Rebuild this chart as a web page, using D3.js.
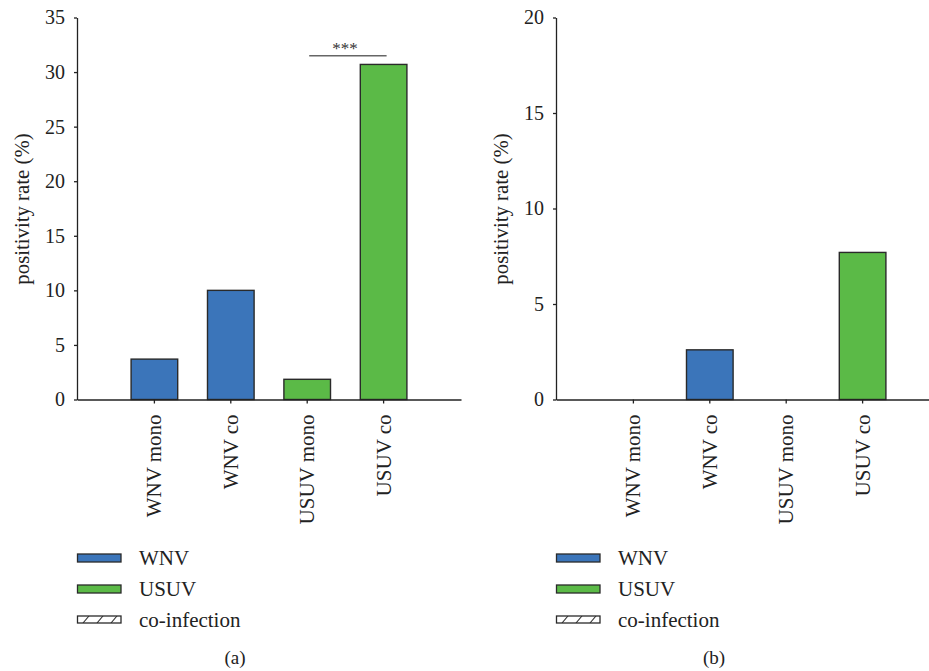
<!DOCTYPE html>
<html><head><meta charset="utf-8">
<script src="https://cdn.jsdelivr.net/npm/d3@7"></script>
<style>body{margin:0;background:#fff}svg{display:block}</style>
</head><body>
<script>
const categories = ["WNV mono", "WNV co", "USUV mono", "USUV co"];
const seriesOf = ["WNV", "WNV", "USUV", "USUV"];
const valuesA = [3.7, 10.0, 1.85, 30.7];
const valuesB = [0, 2.6, 0, 7.7];
const ticksA = [0, 5, 10, 15, 20, 25, 30, 35];
const ticksB = [0, 5, 10, 15, 20];
const legendItems = ["WNV", "USUV", "co-infection"];
const panelLabels = ["(a)", "(b)"];
const colors = {WNV: "#3b75ba", USUV: "#5bba47"};

const W = 929, H = 671;
const font = "'Liberation Serif', 'Times New Roman', serif";
const svg = d3.select("body").append("svg").attr("width", W).attr("height", H)
  .style("font-family", font);

const defs = svg.append("defs");
const pat = defs.append("pattern").attr("id", "hatch").attr("patternUnits", "userSpaceOnUse")
  .attr("width", 14).attr("height", 7).attr("x", 79).attr("y", 616);
pat.append("rect").attr("width", 14).attr("height", 7).attr("fill", "#fff");
pat.append("line").attr("x1", 4).attr("y1", 7).attr("x2", 10).attr("y2", 0)
  .attr("stroke", "#333").attr("stroke-width", 1.1);

function panel(ox, values, ticks, ymax, label, sig) {
  const g = svg.append("g").attr("transform", `translate(${ox},0)`);
  const y = d3.scaleLinear().domain([0, ymax]).range([399.5, 17.5]);
  const x = d3.scaleBand().domain(categories).range([77, 461]).paddingInner(0.39).paddingOuter(0.708);

  // bars
  g.selectAll("rect.bar").data(categories).join("rect").attr("class", "bar")
    .filter((d, i) => values[i] > 0)
    .attr("x", d => x(d)).attr("width", x.bandwidth())
    .attr("y", d => y(values[categories.indexOf(d)]))
    .attr("height", d => y(0) - y(values[categories.indexOf(d)]))
    .attr("fill", d => colors[seriesOf[categories.indexOf(d)]])
    .attr("stroke", "#2a2a2a").attr("stroke-width", 1.4);

  // y axis
  const ya = g.append("g").attr("transform", "translate(77,0)")
    .call(d3.axisLeft(y).tickValues(ticks).tickSize(3).tickPadding(9).tickSizeOuter(0));
  ya.select(".domain").attr("stroke", "#222").attr("stroke-width", 1.3);
  ya.selectAll(".tick line").attr("stroke", "#222").attr("stroke-width", 1.3);
  ya.selectAll(".tick text").attr("font-family", font).attr("font-size", 20).attr("fill", "#222");

  // x axis
  const xa = g.append("g").attr("transform", "translate(0,399.5)")
    .call(d3.axisBottom(x).tickSize(4).tickSizeOuter(0).tickPadding(14));
  xa.select(".domain").attr("stroke", "#222").attr("stroke-width", 1.3);
  xa.selectAll(".tick line").attr("stroke", "#222").attr("stroke-width", 1.3);
  xa.selectAll(".tick text").attr("font-family", font).attr("font-size", 21).attr("fill", "#222")
    .attr("transform", "rotate(-90)").attr("text-anchor", "end")
    .attr("x", -15).attr("y", 0).attr("dy", "0.33em");

  // y label
  g.append("text").attr("transform", "translate(29,209) rotate(-90)")
    .attr("text-anchor", "middle").attr("font-size", 20.8).attr("fill", "#222")
    .text("positivity rate (%)");

  if (sig) {
    const x1 = x(categories[2]) + x.bandwidth() / 2 + 2;
    const x2 = x(categories[3]) + x.bandwidth() / 2 + 3;
    g.append("line").attr("x1", x1).attr("x2", x2).attr("y1", y(sig.level)).attr("y2", y(sig.level))
      .attr("stroke", "#666").attr("stroke-width", 1.6);
    g.append("text").attr("x", (x1 + x2) / 2 - 3).attr("y", y(sig.level) - 2)
      .attr("text-anchor", "middle").attr("font-size", 17).attr("fill", "#333").text(sig.text);
  }

  // legend
  const lg = g.append("g");
  legendItems.forEach((item, i) => {
    const yy = 554 + i * 31;
    lg.append("rect").attr("x", 77.5).attr("y", yy).attr("width", 43.5).attr("height", i === 2 ? 7 : 8)
      .attr("fill", i === 2 ? "url(#hatch)" : colors[item])
      .attr("stroke", "#2a2a2a").attr("stroke-width", 1.3);
    lg.append("text").attr("x", 139).attr("y", yy + 4).attr("dy", "0.35em")
      .attr("font-size", 21).attr("fill", "#222").text(item);
  });

  g.append("text").attr("x", 235).attr("y", 657).attr("dy", "0.35em")
    .attr("text-anchor", "middle").attr("font-size", 19).attr("fill", "#222").text(label);
}

panel(0, valuesA, ticksA, 35, panelLabels[0], {level: 31.5, text: "***"});
panel(479, valuesB, ticksB, 20, panelLabels[1], null);
</script>
</body></html>
